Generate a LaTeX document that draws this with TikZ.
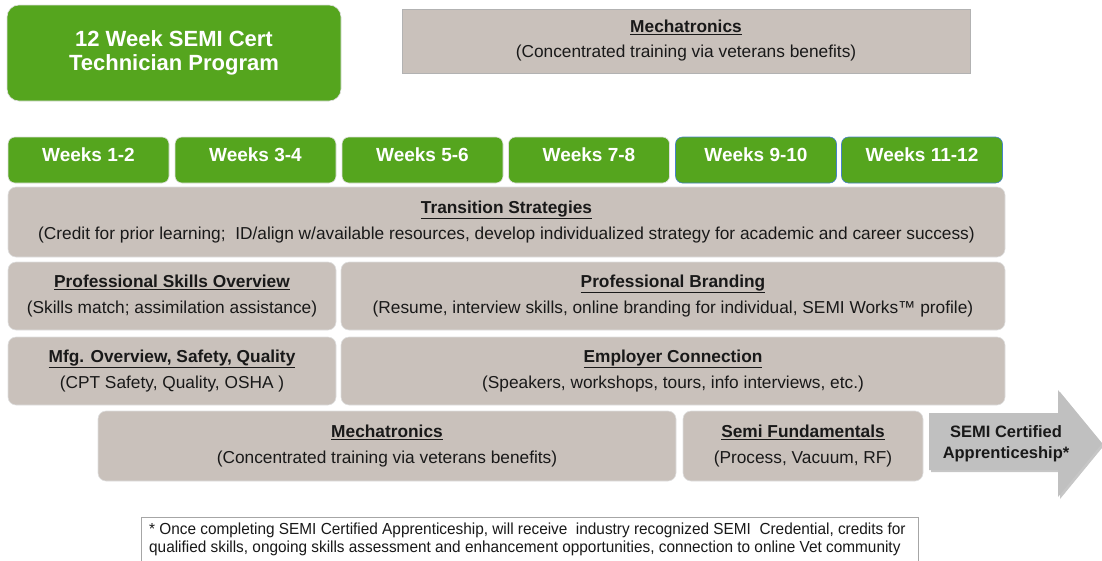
\documentclass[tikz,border=0pt]{standalone}
\usepackage{fontspec}
\setmainfont{Liberation Sans}
\newfontfamily\narrowfont[FakeStretch=0.96]{Liberation Sans}
\usepackage{xcolor}
\usetikzlibrary{shadows, positioning}

\definecolor{semigreen}{RGB}{85,165,30}
\definecolor{boxgrey}{RGB}{201,193,187}
\definecolor{arrowgrey}{RGB}{192,192,192}
\definecolor{weekblue}{RGB}{70,130,200}
\definecolor{textdark}{RGB}{25,25,25}

\newcommand{\boxtitle}[1]{\underline{\textbf{#1}}}

\tikzset{
  greenbox/.style={rounded corners=7pt, fill=semigreen, draw=gray!25, line width=0.6pt,
    inner sep=0pt, text=white, font=\bfseries\fontsize{19}{22}\selectfont},
  greybox/.style={rounded corners=8pt, fill=boxgrey, draw=gray!25, line width=0.6pt,
    inner sep=0pt, align=center, text=textdark, font=\fontsize{17.3}{26}\selectfont},
  arrowtext/.style={align=center, text=textdark, font=\bfseries\fontsize{16.5}{21}\selectfont}
}

\begin{document}
\begin{tikzpicture}[x=1pt, y=-1pt]
  \useasboundingbox (0,0) rectangle (1102,560);

  % Program title
  \node[greenbox, rounded corners=12pt, minimum width=334pt, minimum height=96pt, align=center,
    font=\bfseries\fontsize{22}{24}\selectfont] (title) at (174,53) {12 Week SEMI Cert\\Technician Program};

  % Top mechatronics box
  \node[fill=boxgrey, draw=gray!60, line width=0.6pt, minimum width=568pt, minimum height=64pt,
    inner sep=0pt, align=center, text=textdark, font=\fontsize{17.3}{25}\selectfont] (mechtop) at (686,41)
    {\boxtitle{Mechatronics}\\(Concentrated training via veterans benefits)};

  % Weeks
  \foreach \x/\lbl/\edge [count=\i] in {88.5/1-2/gray!25, 255.5/3-4/gray!25, 422.5/5-6/gray!25,
      589/7-8/gray!25, 756/9-10/weekblue, 922/11-12/weekblue} {
    \node[greenbox, draw=\edge, minimum width=161pt, minimum height=46pt] (wk\i) at (\x,160) {};
    \node[text=white, font=\bfseries\fontsize{19}{22}\selectfont] (wklbl\i) at ([yshift=5pt]wk\i.center) {Weeks \lbl};
  }

  % Rows
  \node[greybox, minimum width=997pt, minimum height=70pt] (trans) at (506.5,222)
    {\boxtitle{Transition Strategies}\\(Credit for prior learning;\ \ ID/align w/available resources, develop individualized strategy for academic and career success)};
  \node[greybox, minimum width=328pt, minimum height=68pt] (skills) at (172,296)
    {\boxtitle{Professional Skills Overview}\\(Skills match; assimilation assistance)};
  \node[greybox, minimum width=664pt, minimum height=68pt] (brand) at (673,296)
    {\boxtitle{Professional Branding}\\(Resume, interview skills, online branding for individual, SEMI Works™ profile)};
  \node[greybox, minimum width=328pt, minimum height=68pt] (mfg) at (172,371)
    {\boxtitle{Mfg. Overview, Safety, Quality}\\(CPT Safety, Quality, OSHA )};
  \node[greybox, minimum width=664pt, minimum height=68pt] (employ) at (673,371)
    {\boxtitle{Employer Connection}\\(Speakers, workshops, tours, info interviews, etc.)};
  \node[greybox, minimum width=578pt, minimum height=70pt] (mech) at (387,446)
    {\boxtitle{Mechatronics}\\(Concentrated training via veterans benefits)};
  \node[greybox, minimum width=240pt, minimum height=70pt] (fund) at (803,446)
    {\boxtitle{Semi Fundamentals}\\(Process, Vacuum, RF)};

  % Apprenticeship arrow
  \fill[arrowgrey, drop shadow={shadow xshift=2pt, shadow yshift=-2pt, opacity=0.45}]
    (929,413) -- (1058,413) -- (1058,390) -- (1102,443.5) -- (1058,497) -- (1058,470) -- (929,470) -- cycle;
  \node[arrowtext] (appr) at (1006,444) {SEMI Certified\\Apprenticeship*};

  % Footnote
  \draw[gray!70, line width=0.8pt, fill=white] (141,517) rectangle (918,566);
  \node[anchor=north west, inner sep=0pt, align=left, text=textdark,
    font=\narrowfont\fontsize{16}{18}\selectfont] (note) at (149,523)
    {* Once completing SEMI Certified Apprenticeship, will receive\ \ industry recognized SEMI\ \ Credential, credits for\\
     qualified skills, ongoing skills assessment and enhancement opportunities, connection to online Vet community};
\end{tikzpicture}
\end{document}
